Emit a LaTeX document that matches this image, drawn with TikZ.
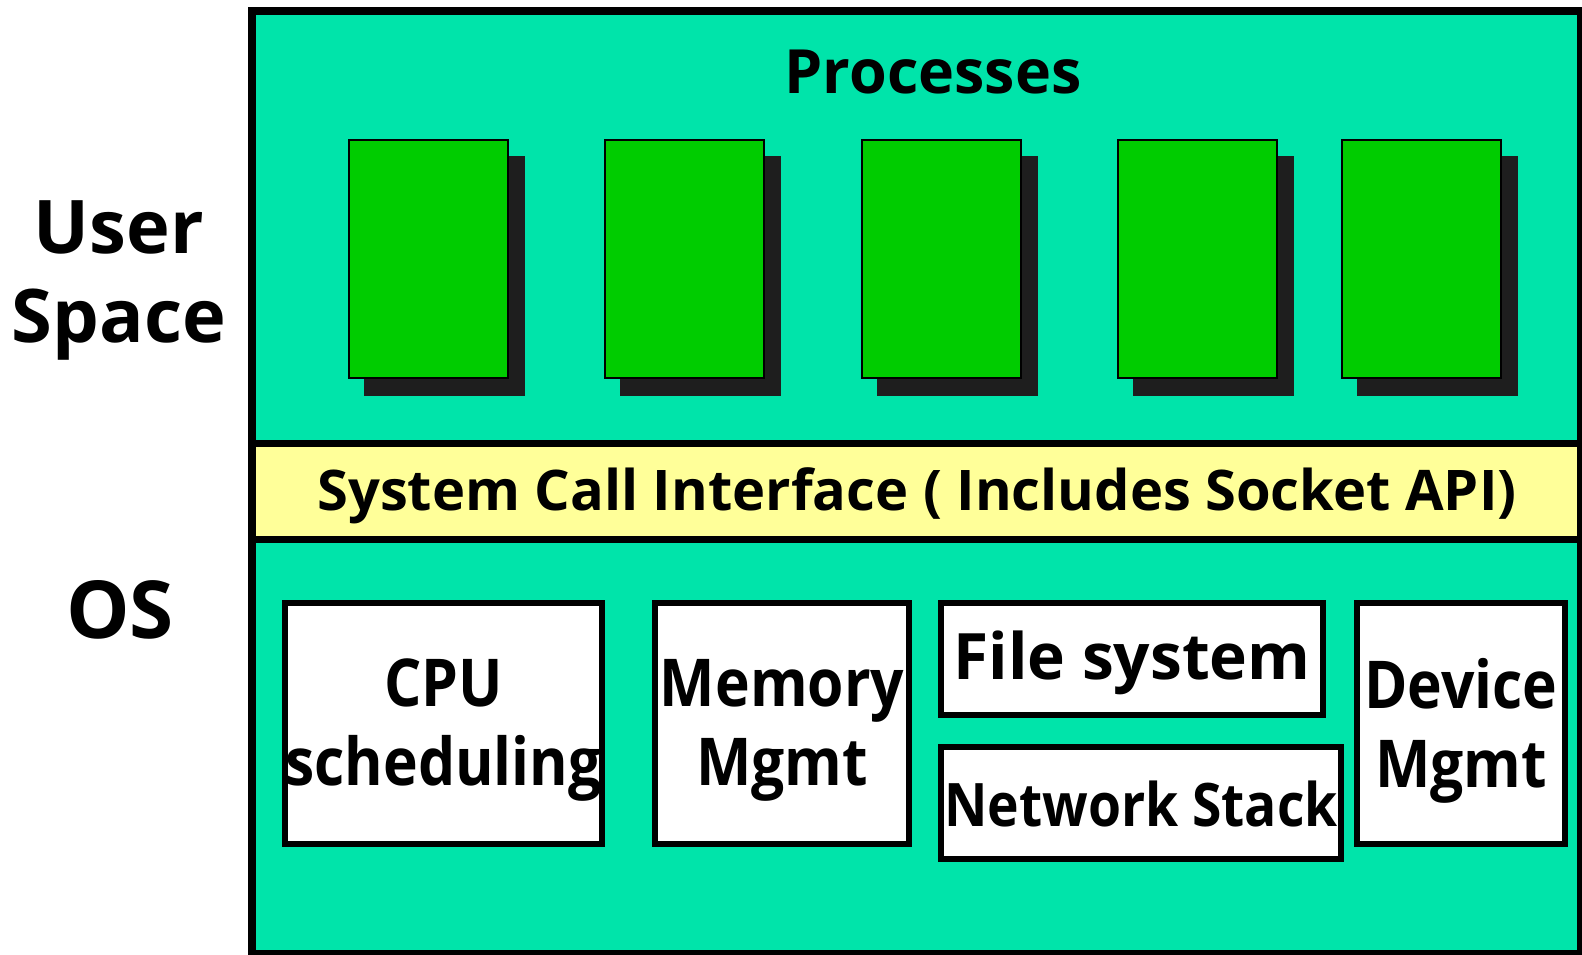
\documentclass[tikz,border=0pt]{standalone}
\usepackage{fontspec}
\setmainfont{Open Sans}
\newfontfamily\narrowfont{Open Sans}[FakeStretch=0.89]
\definecolor{tealbg}{RGB}{0,228,170}
\definecolor{procgreen}{RGB}{0,204,0}
\definecolor{sysyellow}{RGB}{255,255,153}
\definecolor{shadowgray}{RGB}{30,30,30}
\tikzset{
  proc/.style={draw=black, line width=2.5pt, fill=procgreen, minimum width=159pt, minimum height=238pt, inner sep=0pt},
  procshadow/.style={fill=shadowgray, minimum width=161pt, minimum height=240pt, inner sep=0pt},
  kbox/.style={draw=black, line width=5.5pt, fill=white, inner sep=0pt},
  ktext/.style={inner sep=0pt, align=center, font=\narrowfont\bfseries\fontsize{66}{79}\selectfont},
  biglabel/.style={font=\bfseries\fontsize{74}{89}\selectfont, anchor=base},
}
\begin{document}
\begin{tikzpicture}[x=1pt,y=-1pt]
\useasboundingbox (0,0) rectangle (1582,954);
% regions
\fill[tealbg] (252,11) rectangle (1581,954);
\node[fill=sysyellow, minimum width=1329pt, minimum height=96pt, inner sep=0pt] (syscall) at (916.5,491.5) {};
\draw[line width=7pt] (252,443.5) -- (1581,443.5);
\draw[line width=7pt] (252,539.5) -- (1581,539.5);
\draw[line width=8pt] (252,11) rectangle (1581,954);
% side labels
\node[biglabel] (user) at (119,253) {User};
\node[biglabel] (space) at (119,342) {Space};
\node[biglabel, font=\bfseries\fontsize{80}{89}\selectfont] (os) at (120,638) {OS};
% processes
\node[font=\bfseries\fontsize{61}{70}\selectfont, anchor=base] (proctitle) at (933,93) {Processes};
\foreach \i/\x in {1/348,2/604,3/861,4/1117,5/1341}{
  \node[procshadow] (s\i) at (\x+16+80.5,139+17+120) {};
  \node[proc] (p\i) at (\x+80.5,139+120) {};
}
% system call text
\node[font=\bfseries\fontsize{56}{64}\selectfont, anchor=base] (sctext) at (917,510) {System Call Interface ( Includes Socket API)};
% kernel boxes
\node[kbox, minimum width=317pt, minimum height=241pt] (cpu) at (443.5,723.5) {};
\node[kbox, minimum width=254pt, minimum height=241pt] (mem) at (782,723.5) {};
\node[kbox, minimum width=382pt, minimum height=112pt] (fs) at (1132,659) {};
\node[kbox, minimum width=400pt, minimum height=112pt] (net) at (1141,803) {};
\node[kbox, minimum width=208pt, minimum height=241pt] (dev) at (1461,723.5) {};
% kernel box texts
\node[ktext] (cputext) at ([yshift=-7pt]cpu.center) {CPU\\scheduling};
\node[ktext] (memtext) at ([yshift=-7pt]mem.center) {Memory\\Mgmt};
\node[ktext, font=\bfseries\fontsize{64}{70}\selectfont] (fstext) at ([yshift=-4pt]fs.center) {File system};
\node[ktext, font=\narrowfont\bfseries\fontsize{60}{70}\selectfont] (nettext) at ([yshift=-1pt]net.center) {Network Stack};
\node[ktext] (devtext) at ([yshift=-7pt]dev.center) {Device\\Mgmt};
\end{tikzpicture}
\end{document}
